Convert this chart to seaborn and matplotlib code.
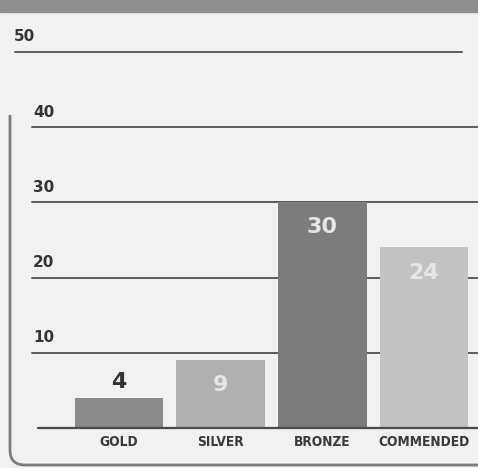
import matplotlib
matplotlib.use("Agg")
import matplotlib.pyplot as plt
import matplotlib.patches as mpatches
from matplotlib.path import Path
import seaborn as sns

# data
categories = ["GOLD", "SILVER", "BRONZE", "COMMENDED"]
values = [4, 9, 30, 24]
bar_colors = ["#8a8a8a", "#b0b0b0", "#7c7c7c", "#c2c2c2"]
label_colors = ["#333333", "#e6e6e6", "#e6e6e6", "#e6e6e6"]
grid_values = [10, 20, 30, 40, 50]

sns.set_style("white")
bg = "#f1f1f1"

fig = plt.figure(figsize=(4.78, 4.68), dpi=100, facecolor=bg)
ax = fig.add_axes([0, 0, 1, 1])
ax.set_facecolor(bg)

sns.barplot(x=categories, y=values, hue=categories, palette=bar_colors,
            width=0.87, legend=False, saturation=1, linewidth=0,
            edgecolor="none", ax=ax, zorder=3)

# axes fill the whole figure, limits chosen to place the plot area
ax.set_xlim(-1.17, 3.53)
ax.set_ylim(-5.32, 56.9)
ax.axis("off")

# grid lines and their labels
for v in grid_values:
    if v == 50:
        x0, x1, tx = 15 / 478, 462 / 478, 14 / 478
    else:
        x0, x1, tx = 32 / 478, 1.0, 33 / 478
    ax.axhline(v, xmin=x0, xmax=x1, color="#5a5a5a", lw=1.4, zorder=1)
    ax.text(tx, v + 1.0, str(v), transform=ax.get_yaxis_transform(),
            ha="left", va="bottom", fontsize=11, fontweight="bold", color="#333333")

# baseline
ax.axhline(0, xmin=38 / 478, xmax=1.0, color="#4a4a4a", lw=1.6, zorder=4)

# value labels and category names
for i, (v, c) in enumerate(zip(values, label_colors)):
    if v < 6:
        ax.text(i, v + 0.8, str(v), ha="center", va="bottom", fontsize=16,
                fontweight="heavy", color=c, zorder=5)
    else:
        ax.text(i, v - 2.0, str(v), ha="center", va="top", fontsize=16,
                fontweight="heavy", color=c, zorder=5)
    ax.text(i, -1.8, categories[i], ha="center", va="center", fontsize=9.8,
            fontweight="bold", color="#3a3a3a", fontstretch="condensed",
            family=["Liberation Sans Narrow", "DejaVu Sans"])

# header band at the top
fig.patches.append(mpatches.Rectangle((0, 1 - 12 / 468), 1, 12 / 468,
                                      transform=fig.transFigure, color="#8e8e8e"))

# panel border: left edge with rounded corner into bottom edge
W, H = 478, 468
verts = [(10 / W, 1 - 115 / H), (10 / W, 1 - 450 / H), (10 / W, 1 - 465 / H),
         (25 / W, 1 - 465 / H), (1.0, 1 - 465 / H)]
codes = [Path.MOVETO, Path.LINETO, Path.CURVE3, Path.CURVE3, Path.LINETO]
fig.patches.append(mpatches.PathPatch(Path(verts, codes), transform=fig.transFigure,
                                      fill=False, edgecolor="#7a7a7a", lw=2))

fig.savefig("out.png", dpi=100, facecolor=bg)
